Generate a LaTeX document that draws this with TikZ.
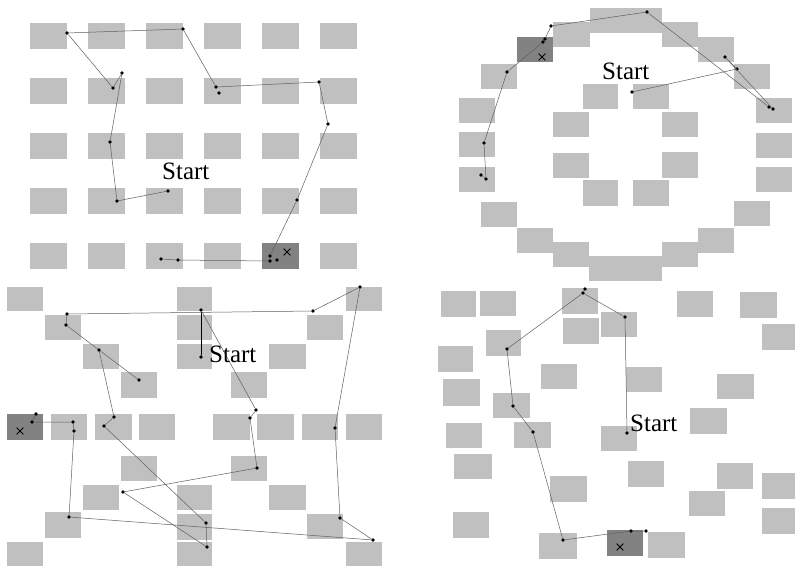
\documentclass[tikz,border=0pt]{standalone}
\usepackage{fontspec}
\setmainfont{Liberation Serif}
\usetikzlibrary{shapes.misc}
\definecolor{cellgray}{RGB}{192,192,192}
\definecolor{cellhit}{RGB}{130,130,130}
\definecolor{linkgray}{RGB}{95,95,95}
\begin{document}
\begin{tikzpicture}[x=1pt,y=-1pt,
  cell/.style={fill=cellgray},
  hitcell/.style={fill=cellhit},
  dot/.style={circle,fill=black,inner sep=0pt,minimum size=3.6pt},
  link/.style={draw=linkgray,line width=0.5pt},
  boldlink/.style={draw=black,line width=0.9pt},
  goal/.style={cross out,draw=black,line width=0.8pt,inner sep=0pt,minimum size=6pt},
  lbl/.style={anchor=base west,inner sep=0pt,font=\fontsize{25}{30}\selectfont}]
\useasboundingbox (0,0) rectangle (795,566);
\fill[white] (0,0) rectangle (795,566);

% ---------- top-left: grid ----------
\foreach \i in {0,...,5}
  \foreach \j in {0,...,4}
    \fill[cell] ({30+58*\i},{23+55*\j}) rectangle ++(37,26);
\fill[hitcell] (262,243) rectangle ++(37,26);

% ---------- top-right: ring ----------
\foreach \a/\b/\c/\d in {590/8/662/33, 553/22/590/47, 662/22/698/47, 698/37/734/62,
  481/64/517/89, 734/64/770/89, 459/98/495/123, 756/98/792/123,
  459/132/495/157, 756/133/792/158, 459/167/495/192, 756/167/792/192,
  481/202/517/227, 734/201/770/226, 517/228/553/253, 698/228/734/253,
  553/242/589/267, 662/242/698/267, 589/256/662/281,
  583/84/618/109, 633/84/669/109, 553/112/589/137, 662/112/698/137,
  553/153/589/178, 662/152/698/178, 583/180/618/206, 633/180/669/206}
  \fill[cell] (\a,\b) rectangle (\c,\d);
\fill[hitcell] (517,37) rectangle (553,62);

% ---------- bottom-left ----------
\foreach \a/\b/\c/\d in {7/287/43/311, 177/287/212/311, 346/287/382/311,
  45/315/81/340, 177/315/212/340, 307/315/343/340,
  83/344/119/369, 177/344/212/369, 269/344/306/369,
  121/372/157/398, 231/372/267/398,
  51/414/87/440, 95/414/132/440, 139/414/175/440, 213/414/250/440,
  257/414/294/440, 302/414/338/440, 346/414/382/440,
  121/456/157/481, 231/456/267/481,
  83/485/119/510, 177/485/212/510, 269/485/306/510,
  45/512/81/538, 177/514/212/540, 307/514/343/539,
  7/542/43/566, 177/542/212/566, 346/542/382/566}
  \fill[cell] (\a,\b) rectangle (\c,\d);
\fill[hitcell] (7,414) rectangle (43,440);

% ---------- bottom-right ----------
\foreach \a/\b/\c/\d in {441/291/476/317, 480/291/516/316, 562/288/598/314,
  677/291/713/317, 740/292/777/318, 601/312/637/337, 563/318/599/344,
  486/330/521/356, 762/324/795/350, 438/346/473/372, 541/364/577/389,
  626/367/662/392, 717/374/754/399, 443/379/480/406, 493/393/530/418,
  690/408/727/434, 446/423/482/448, 514/422/551/448, 601/426/637/451,
  454/454/492/479, 628/461/664/487, 717/463/753/489, 762/473/795/499,
  550/476/587/502, 689/491/725/516, 762/508/795/534, 453/512/489/538,
  539/533/577/559, 648/532/685/558}
  \fill[cell] (\a,\b) rectangle (\c,\d);
\fill[hitcell] (607,530) rectangle (643,556);

% ---------- dots ----------
\foreach \n/\x/\y in {t1/168/191, t2/117/201, t3/110/142, t4/122/73, t5/113/88,
  t6/67/33, t7/183/29, t8/216/87, t9/219/93, t10/319/82, t11/328/124,
  t12/297/200, t13/270/256, t14/270/261, t15/277/260, t16/178/260, t17/161/259,
  r1/632/92, r2/737/69, r3/725/57, r4/773/109, r5/769/107, r6/647/12,
  r7/551/26, r8/545/39, r9/543/42, r10/507/72, r11/484/143, r12/481/175, r13/486/179,
  b1/201/357, b2/201/310, b3/256/410, b4/250/418, b5/257/468, b6/123/492,
  b7/207/547, b8/206/523, b9/104/426, b10/114/417, b11/99/350, b12/139/380,
  b13/66/325, b14/67/314, b15/313/311, b16/360/287, b17/335/428, b18/340/518,
  b19/373/540, b20/69/517, b21/74/431, b22/73/422, b23/32/422, b24/36/414,
  s1/627/433, s2/625/317, s3/583/293, s4/585/289, s5/507/349, s6/513/406,
  s7/533/432, s8/563/540, s9/631/531, s10/646/531}
  \node[dot] (\n) at (\x,\y) {};

% ---------- paths ----------
\draw[link] (t1)--(t2)--(t3)--(t4)--(t5)--(t6)--(t7)--(t8)--(t10)--(t11)--(t12)--(t13)--(t14)--(t16)--(t17);
\draw[link] (r1)--(r2)--(r3)--(r4)--(r5)--(r6)--(r7)--(r8)--(r9)--(r10)--(r11)--(r13)--(r12);
\draw[boldlink] (b1)--(b2);
\draw[link] (b2)--(b3)--(b4)--(b5)--(b6)--(b7)--(b8)--(b9)--(b10)--(b11)--(b13)--(b14)--(b15)--(b16)--(b17)--(b18)--(b19)--(b20)--(b21)--(b22)--(b23)--(b24);
\draw[link] (b11)--(b12);
\draw[link] (s1)--(s2)--(s3)--(s5)--(s6)--(s7)--(s8)--(s9)--(s10);
\draw[link] (s3)--(s4);

% ---------- goals ----------
\node[goal] (gtl) at (287,252) {};
\node[goal] (gtr) at (542,57) {};
\node[goal] (gbl) at (20,431) {};
\node[goal] (gbr) at (620,547) {};

% ---------- labels ----------
\node[lbl] (stl) at (162,179) {Start};
\node[lbl] (str) at (602,79) {Start};
\node[lbl] (sbl) at (209,362) {Start};
\node[lbl] (sbr) at (630,431) {Start};
\end{tikzpicture}
\end{document}
